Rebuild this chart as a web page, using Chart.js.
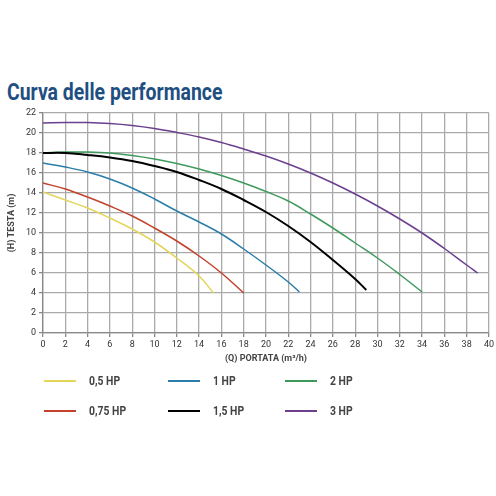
<!DOCTYPE html>
<html>
<head>
<meta charset="UTF-8">
<title>Curva delle performance</title>
<script src="https://cdn.jsdelivr.net/npm/chart.js"></script>
<style>
  body { margin: 0; background: #fff; }
  #wrap { position: relative; width: 496px; height: 496px; }
  #title {
    position: absolute; left: 7px; top: 78px;
    font-family: 'Roboto', sans-serif; white-space: nowrap;
    font-weight: bold; font-size: 24px; color: #1f4f82;
    transform: scaleX(0.81); transform-origin: left top;
  }
  #chart { position: absolute; left: 0; top: 0; }
  .leg { position: absolute; font-family: 'Roboto', sans-serif;
    font-weight: bold; font-size: 13px; color: #444; }
  .leg span.ln { position: absolute; left: 0; top: 7px; width: 32px; height: 2px; }
  .leg span.tx { position: absolute; left: 45px; top: 0; white-space: nowrap;
    transform: scaleX(0.8); transform-origin: left top; }
</style>
</head>
<body>
<div id="wrap">
  <div id="title">Curva delle performance</div>
  <canvas id="chart" width="496" height="496"></canvas>
  <div id="legend"></div>
</div>
<script>
// series (x = portata m3/h, y = testa m)
const labels = ['0,5 HP', '0,75 HP', '1 HP', '1,5 HP', '2 HP', '3 HP'];
const colors = ['#e3d55a', '#c2422c', '#2a7ea8', '#000000', '#3e9a5c', '#6b3f8e'];

const q05 = [0, 2, 4, 6, 8, 10, 12, 14, 15.3];
const h05 = [14.1, 13.3, 12.5, 11.5, 10.4, 9.1, 7.5, 5.7, 4.0];

const q075 = [0, 2, 4, 6, 8, 10, 12, 14, 16, 18];
const h075 = [15.0, 14.4, 13.6, 12.7, 11.7, 10.5, 9.2, 7.7, 6.0, 4.0];

const q1 = [0, 2, 4, 6, 8, 10, 12, 14, 16, 18, 20, 22, 23];
const h1 = [17.0, 16.6, 16.1, 15.4, 14.5, 13.4, 12.2, 11.1, 9.9, 8.4, 6.8, 5.1, 4.1];

const q15 = [0, 2, 4, 6, 8, 10, 12, 14, 16, 18, 20, 22, 24, 26, 28, 29];
const h15 = [18.0, 18.0, 17.8, 17.55, 17.2, 16.7, 16.1, 15.3, 14.4, 13.3, 12.1, 10.7, 9.1, 7.3, 5.4, 4.3];

const q2 = [0, 2, 4, 6, 8, 10, 12, 14, 16, 18, 20, 22, 24, 26, 28, 30, 32, 34];
const h2 = [18.0, 18.1, 18.1, 18.0, 17.75, 17.4, 16.95, 16.4, 15.75, 15.0, 14.15, 13.2, 11.9, 10.5, 9.0, 7.5, 5.85, 4.1];

const q3 = [0, 2, 4, 6, 8, 10, 12, 14, 16, 18, 20, 22, 24, 26, 28, 30, 32, 34, 36, 38, 39];
const h3 = [21.0, 21.05, 21.05, 20.95, 20.75, 20.45, 20.05, 19.6, 19.05, 18.4, 17.7, 16.9, 16.0, 15.0, 13.9, 12.7, 11.4, 10.0, 8.45, 6.8, 6.0];

const xTicks = { min: 0, max: 40, step: 2 };
const yTicks = { min: 0, max: 22, step: 2 };

const series = [[q05, h05], [q075, h075], [q1, h1], [q15, h15], [q2, h2], [q3, h3]];

const font = "'Roboto', sans-serif";

const datasets = series.map(function(s, i) {
  return {
    label: labels[i],
    data: s[0].map(function(q, j) { return { x: q, y: s[1][j] }; }),
    borderColor: colors[i],
    borderWidth: i === 3 ? 2 : 1.5,
    pointRadius: 0,
    tension: 0.4,
    fill: false
  };
});

new Chart(document.getElementById('chart'), {
  type: 'line',
  data: { datasets: datasets },
  options: {
    responsive: false,
    animation: false,
    layout: { padding: { top: 113, right: 7, bottom: 128, left: 0 } },
    plugins: { legend: { display: false }, tooltip: { enabled: false } },
    scales: {
      x: {
        type: 'linear', min: xTicks.min, max: xTicks.max,
        ticks: { stepSize: xTicks.step, color: '#333', font: { family: font, size: 9 }, padding: 2 },
        grid: { color: '#aaa', lineWidth: 1.3, tickLength: 4, tickColor: '#888' },
        border: { color: '#888', width: 1.3 },
        title: { display: true, text: '(Q) PORTATA (m³/h)', color: '#444', font: { family: font, size: 9, weight: 'bold' }, padding: { top: 4 } },
        afterFit: function(scale) { scale.height = 35; }
      },
      y: {
        min: yTicks.min, max: yTicks.max,
        ticks: { stepSize: yTicks.step, color: '#333', font: { family: font, size: 9 }, padding: 3 },
        grid: { color: '#aaa', lineWidth: 1.3, tickLength: 4, tickColor: '#888' },
        border: { color: '#888', width: 1.3 },
        title: { display: true, text: '(H) TESTA (m)', color: '#444', font: { family: font, size: 9, weight: 'bold' }, padding: { top: 6, bottom: 2 } },
        afterFit: function(scale) { scale.width = 43; }
      }
    }
  }
});

// legenda manuale: 3 colonne x 2 righe
const legPos = [[44, 373], [44, 403], [168, 373], [168, 403], [285, 373], [285, 403]];
const legend = document.getElementById('legend');
labels.forEach(function(l, i) {
  const d = document.createElement('div');
  d.className = 'leg';
  d.style.left = legPos[i][0] + 'px';
  d.style.top = legPos[i][1] + 'px';
  d.innerHTML = '<span class="ln" style="background:' + colors[i] + '"></span><span class="tx">' + l + '</span>';
  legend.appendChild(d);
});
</script>
</body>
</html>
